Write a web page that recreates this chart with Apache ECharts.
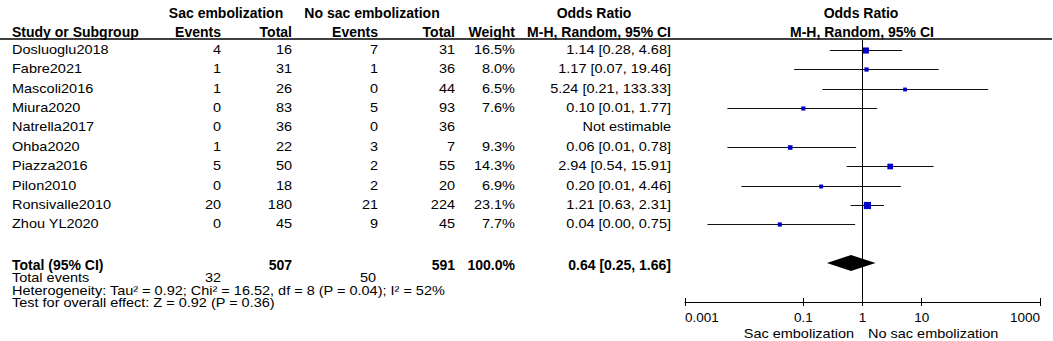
<!DOCTYPE html>
<html>
<head>
<meta charset="utf-8">
<script src="https://cdn.jsdelivr.net/npm/echarts@6/dist/echarts.min.js"></script>
<style>
html, body { margin: 0; background: #fff; }
#forest { width: 1053px; height: 341px; }
</style>
</head>
<body>
<div id="forest"></div>
<script>
// study rows
var studies = ['Dosluoglu2018', 'Fabre2021', 'Mascoli2016', 'Miura2020', 'Natrella2017', 'Ohba2020', 'Piazza2016', 'Pilon2010', 'Ronsivalle2010', 'Zhou YL2020'];
var sacEvents = [4, 1, 1, 0, 0, 1, 5, 0, 20, 0];
var sacTotal = [16, 31, 26, 83, 36, 22, 50, 18, 180, 45];
var noSacEvents = [7, 1, 0, 5, 0, 3, 2, 2, 21, 9];
var noSacTotal = [31, 36, 44, 93, 36, 7, 55, 20, 224, 45];
var weights = [16.5, 8.0, 6.5, 7.6, null, 9.3, 14.3, 6.9, 23.1, 7.7];
var oddsRatio = [1.14, 1.17, 5.24, 0.10, null, 0.06, 2.94, 0.20, 1.21, 0.04];
var ciLower = [0.28, 0.07, 0.21, 0.0052, null, 0.0052, 0.54, 0.009, 0.63, 0.0024];
var ciUpper = [4.68, 19.46, 133.33, 1.77, null, 0.78, 15.91, 4.46, 2.31, 0.75];

// pooled result and footer numbers
var pooledOR = 0.64, pooledLower = 0.25, pooledUpper = 1.66;
var totalSac = 507, totalNoSac = 591;
var eventsSac = 32, eventsNoSac = 50;
var tau2 = 0.92, chi2 = 16.52, df = 8, pHet = 0.04, i2 = 52;
var zOverall = 0.92, pOverall = 0.36;

// axis ticks
var tickValues = [0.001, 0.1, 1, 10, 1000];
var tickLabels = ['0.001', '0.1', '1', '10', '1000'];

var FAMILY = '"Liberation Sans", Arial, sans-serif';
var FONT = '12.5px ' + FAMILY;
var BOLD = 'bold 14px ' + FAMILY;
var ROW = 19.4, TOP = 40, PLOT_H = 262;

function lg(v) { return Math.round(Math.log10(v) * 1e6) / 1e6; }
function ciText(o, l, h) { return o.toFixed(2) + ' [' + l.toFixed(2) + ', ' + h.toFixed(2) + ']'; }
// regular text is drawn a bit wide, like the reference
function txt(x, y, t, align, font) {
    return {
        type: 'text', x: x, y: y, scaleX: font ? 1 : 1.16,
        style: { text: t, align: align || 'left', verticalAlign: 'middle', font: font || FONT, fill: '#000' }
    };
}

var col = { name: 12, sacEv: 221, sacTot: 292, noEv: 378, noTot: 455, weight: 515, ci: 671 };
var tickLogs = tickValues.map(lg);

var markData = [];
studies.forEach(function (s, i) {
    if (oddsRatio[i] != null)
        markData.push([lg(oddsRatio[i]), lg(ciLower[i]), lg(ciUpper[i]), i + 0.5, weights[i]]);
});

var chart = echarts.init(document.getElementById('forest'), null, { renderer: 'svg' });

var option = {
    animation: false,
    grid: { left: 685, right: 13, top: TOP, height: PLOT_H },
    xAxis: [{
        type: 'value', min: -3, max: 3, position: 'bottom',
        axisLine: { show: true, onZero: false, lineStyle: { color: '#000', width: 1 } },
        axisTick: { show: true, inside: true, length: 4, customValues: tickLogs, lineStyle: { color: '#000' } },
        axisLabel: {
            customValues: tickLogs,
            formatter: function (v) {
                var k = 0;
                tickLogs.forEach(function (t, j) { if (Math.abs(t - v) < Math.abs(tickLogs[k] - v)) k = j; });
                return tickLabels[k];
            },
            alignMinLabel: 'left', alignMaxLabel: 'right',
            margin: 8, color: '#000', fontSize: 13.5, fontFamily: 'Liberation Sans'
        },
        splitLine: { show: false }
    }, {
        type: 'value', min: -3, max: 3, position: 'bottom',
        axisLine: { show: false, onZero: false },
        axisTick: { show: true, length: 4, customValues: tickLogs, lineStyle: { color: '#000' } },
        axisLabel: { show: false },
        splitLine: { show: false }
    }],
    yAxis: { type: 'value', inverse: true, min: 0, max: PLOT_H / ROW, show: false },
    graphic: [
        { type: 'line', shape: { x1: 0, y1: 39, x2: 1052, y2: 39 }, style: { stroke: '#000', lineWidth: 1.5 } },
        txt(226, 13, 'Sac embolization', 'center', BOLD),
        txt(372, 13, 'No sac embolization', 'center', BOLD),
        txt(594, 13, 'Odds Ratio', 'center', BOLD),
        txt(861, 13, 'Odds Ratio', 'center', BOLD),
        txt(col.name, 32, 'Study or Subgroup', 'left', BOLD),
        txt(col.sacEv, 32, 'Events', 'right', BOLD),
        txt(col.sacTot, 32, 'Total', 'right', BOLD),
        txt(col.noEv, 32, 'Events', 'right', BOLD),
        txt(col.noTot, 32, 'Total', 'right', BOLD),
        txt(col.weight, 32, 'Weight', 'right', BOLD),
        txt(col.ci, 32, 'M-H, Random, 95% CI', 'right', BOLD),
        txt(862, 32, 'M-H, Random, 95% CI', 'center', BOLD),
        txt(col.name, 264.5, 'Total (95% CI)', 'left', BOLD),
        txt(col.sacTot, 264.5, String(totalSac), 'right', BOLD),
        txt(col.noTot, 264.5, String(totalNoSac), 'right', BOLD),
        txt(col.weight, 264.5, '100.0%', 'right', BOLD),
        txt(col.ci, 264.5, ciText(pooledOR, pooledLower, pooledUpper), 'right', BOLD),
        txt(col.name, 278, 'Total events'),
        txt(col.sacEv, 278, String(eventsSac), 'right'),
        txt(col.noEv - 2, 278, String(eventsNoSac), 'right'),
        txt(col.name, 290.5, 'Heterogeneity: Tau\u00b2 = ' + tau2.toFixed(2) + '; Chi\u00b2 = ' + chi2.toFixed(2) +
            ', df = ' + df + ' (P = ' + pHet.toFixed(2) + '); I\u00b2 = ' + i2 + '%'),
        txt(col.name, 303, 'Test for overall effect: Z = ' + zOverall.toFixed(2) + ' (P = ' + pOverall.toFixed(2) + ')'),
        txt(854, 334, 'Sac embolization', 'right'),
        txt(868, 334, 'No sac embolization', 'left')
    ],
    series: [{
        type: 'custom',
        data: markData,
        encode: { x: [0, 1, 2], y: 3 },
        renderItem: function (params, api) {
            var y = api.value(3);
            var lo = api.coord([api.value(1), y]), hi = api.coord([api.value(2), y]), mid = api.coord([api.value(0), y]);
            var yy = Math.round(mid[1]) + 0.5;
            var s = 1.5 * Math.sqrt(api.value(4));
            return {
                type: 'group', children: [
                    { type: 'line', shape: { x1: lo[0], y1: yy, x2: hi[0], y2: yy }, style: { stroke: '#111', lineWidth: 1 } },
                    { type: 'rect', shape: { x: mid[0] - s / 2, y: yy - s / 2, width: s, height: s }, style: { fill: '#0000c8' } }
                ]
            };
        },
        markLine: {
            silent: true, symbol: 'none', label: { show: false },
            lineStyle: { color: '#000', width: 1, type: 'solid' },
            data: [{ xAxis: 0 }]
        }
    }, {
        type: 'custom',
        data: [[lg(pooledOR), lg(pooledLower), lg(pooledUpper), 11.5]],
        encode: { x: [0, 1, 2], y: 3 },
        renderItem: function (params, api) {
            var y = api.value(3);
            var lo = api.coord([api.value(1), y]), hi = api.coord([api.value(2), y]), mid = api.coord([api.value(0), y]);
            return {
                type: 'polygon',
                shape: { points: [[lo[0], mid[1]], [mid[0], mid[1] - 8], [hi[0], mid[1]], [mid[0], mid[1] + 8]] },
                style: { fill: '#000' }
            };
        }
    }, {
        type: 'custom',
        data: studies.map(function (s, i) { return [0, i + 0.5]; }),
        encode: { x: 0, y: 1 },
        renderItem: function (params, api) {
            var i = params.dataIndex;
            var y = api.coord([0, api.value(1)])[1];
            var kids = [
                txt(col.name, y, studies[i], 'left'),
                txt(col.sacEv, y, String(sacEvents[i]), 'right'),
                txt(col.sacTot, y, String(sacTotal[i]), 'right'),
                txt(col.noEv, y, String(noSacEvents[i]), 'right'),
                txt(col.noTot, y, String(noSacTotal[i]), 'right')
            ];
            if (weights[i] != null) kids.push(txt(col.weight, y, weights[i].toFixed(1) + '%', 'right'));
            kids.push(txt(col.ci, y, oddsRatio[i] != null ? ciText(oddsRatio[i], ciLower[i], ciUpper[i]) : 'Not estimable', 'right'));
            return { type: 'group', children: kids };
        }
    }]
};
chart.setOption(option);
</script>
</body>
</html>
